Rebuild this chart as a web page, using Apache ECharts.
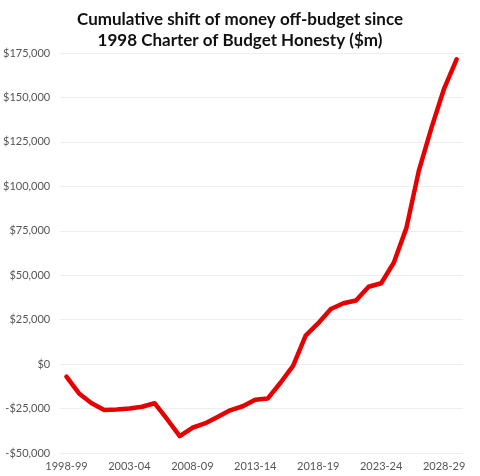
<!DOCTYPE html>
<html>
<head>
<meta charset="utf-8">
<style>
  html, body { margin: 0; padding: 0; background: #fff; }
  #main { width: 480px; height: 476px; }
</style>
<script src="https://cdn.jsdelivr.net/npm/echarts@6/dist/echarts.min.js"></script>
</head>
<body>
<div id="main"></div>
<script>
// financial years 1998-99 .. 2029-30
var years = [];
for (var y = 1998; y <= 2029; y++) {
  years.push(y + '-' + String((y + 1) % 100).padStart(2, '0'));
}
// cumulative shift off-budget ($m)
var shift = [-7000, -16500, -22000, -25800, -25500, -25000, -24000, -22000,
  -31000, -40500, -35800, -33400, -29700, -26000, -23700, -20000, -19300,
  -10500, -1000, 16000, 23000, 31000, 34200, 35800, 43500, 45500, 57000,
  76500, 109000, 133000, 155000, 171500];
var yMin = -50000, yMax = 175000, yStep = 25000;

var myChart = echarts.init(document.getElementById('main'));
var option = {
  backgroundColor: '#fff',
  animation: false,
  title: {
    text: 'Cumulative shift of money off-budget since\n1998 Charter of Budget Honesty ($m)',
    left: 'center',
    top: 4,
    textStyle: {
      fontFamily: 'Lato',
      fontWeight: 'bold',
      fontSize: 17,
      lineHeight: 21,
      color: '#111'
    }
  },
  grid: {
    left: 58,
    right: 17,
    top: 53,
    bottom: 23
  },
  xAxis: {
    type: 'category',
    data: years,
    boundaryGap: true,
    axisLine: { show: false },
    axisTick: { show: false },
    axisLabel: {
      interval: 4,
      color: '#555',
      fontFamily: 'Lato',
      fontSize: 11,
      margin: 8
    }
  },
  yAxis: {
    type: 'value',
    min: yMin,
    max: yMax,
    interval: yStep,
    axisLine: { show: false },
    axisTick: { show: false },
    splitLine: { lineStyle: { color: '#eeeeee', width: 1 } },
    axisLabel: {
      color: '#555',
      fontFamily: 'Lato',
      fontSize: 11,
      margin: 10,
      formatter: function (v) {
        var s = '$' + Math.abs(v).toLocaleString('en-US');
        return v < 0 ? '-' + s : s;
      }
    }
  },
  series: [{
    type: 'line',
    data: shift,
    symbol: 'none',
    lineStyle: { color: '#e60000', width: 4.5, join: 'round', cap: 'round' }
  }]
};
myChart.setOption(option);
</script>
</body>
</html>
